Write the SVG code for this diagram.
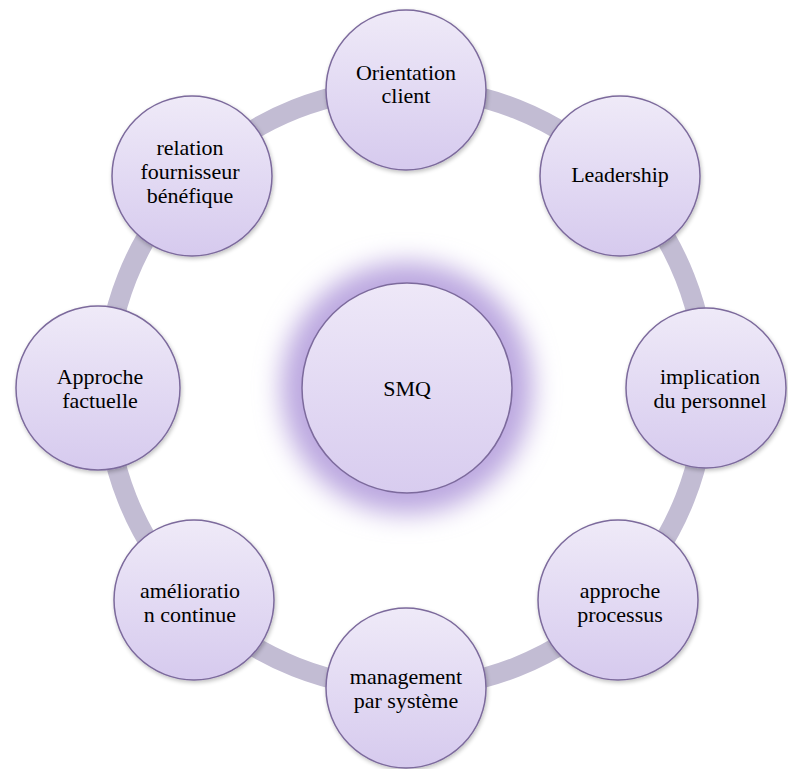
<svg xmlns="http://www.w3.org/2000/svg" width="788" height="769" viewBox="0 0 788 769">
  <defs>
    <linearGradient id="nodeFill" x1="0" y1="0" x2="0" y2="1">
      <stop offset="0" stop-color="#efeaf8"/>
      <stop offset="1" stop-color="#d6caee"/>
    </linearGradient>
    <linearGradient id="hubFill" x1="0" y1="0" x2="0" y2="1">
      <stop offset="0" stop-color="#eee8f8"/>
      <stop offset="1" stop-color="#d8ccef"/>
    </linearGradient>
    <filter id="glow" x="-50%" y="-50%" width="200%" height="200%">
      <feGaussianBlur stdDeviation="13"/>
    </filter>
    <filter id="shadow" x="-20%" y="-20%" width="140%" height="140%">
      <feGaussianBlur in="SourceAlpha" stdDeviation="2"/>
      <feOffset dx="1" dy="2"/>
      <feComponentTransfer><feFuncA type="linear" slope="0.25"/></feComponentTransfer>
      <feMerge><feMergeNode/><feMergeNode in="SourceGraphic"/></feMerge>
    </filter>
  </defs>
  <style>
    .ring { fill: none; stroke: #c2bcd3; stroke-width: 20; }
    .node { fill: url(#nodeFill); stroke: #7c6a9c; stroke-width: 1.5; filter: url(#shadow); }
    .hub { fill: url(#hubFill); stroke: #7c6a9c; stroke-width: 1.5; }
    .label { font-family: "Liberation Serif", "Times New Roman", serif; font-size: 22px; fill: #000; text-anchor: middle; }
  </style>

  <rect width="788" height="769" fill="#ffffff"/>

  <!-- cycle band linking the outer nodes -->
  <g id="connectors">
    <circle class="ring" cx="406" cy="388" r="300"/>
  </g>

  <!-- central hub with its soft halo -->
  <g id="hub">
    <circle cx="407" cy="388" r="126" fill="#bca8e0" filter="url(#glow)"/>
    <circle class="hub" cx="407" cy="388" r="105"/>
    <text class="label" x="407" y="396">SMQ</text>
  </g>

  <g id="orientation-client">
    <circle class="node" cx="406" cy="90" r="80"/>
    <text class="label" x="406" y="80">Orientation</text>
    <text class="label" x="406" y="103">client</text>
  </g>

  <g id="leadership">
    <circle class="node" cx="620" cy="176" r="80"/>
    <text class="label" x="620" y="182">Leadership</text>
  </g>

  <g id="implication-personnel">
    <circle class="node" cx="706" cy="388" r="80"/>
    <text class="label" x="710" y="384">implication</text>
    <text class="label" x="710" y="408">du personnel</text>
  </g>

  <g id="approche-processus">
    <circle class="node" cx="618" cy="600" r="80"/>
    <text class="label" x="620" y="598">approche</text>
    <text class="label" x="620" y="622">processus</text>
  </g>

  <g id="management-systeme">
    <circle class="node" cx="406" cy="688" r="80"/>
    <text class="label" x="406" y="684">management</text>
    <text class="label" x="406" y="708">par système</text>
  </g>

  <g id="amelioration-continue">
    <circle class="node" cx="194" cy="600" r="80"/>
    <text class="label" x="190" y="598">amélioratio</text>
    <text class="label" x="190" y="622">n continue</text>
  </g>

  <g id="approche-factuelle">
    <circle class="node" cx="98" cy="388" r="82"/>
    <text class="label" x="100" y="384">Approche</text>
    <text class="label" x="100" y="408">factuelle</text>
  </g>

  <g id="relation-fournisseur">
    <circle class="node" cx="192" cy="176" r="80"/>
    <text class="label" x="190" y="155">relation</text>
    <text class="label" x="190" y="179">fournisseur</text>
    <text class="label" x="190" y="203">bénéfique</text>
  </g>
</svg>
